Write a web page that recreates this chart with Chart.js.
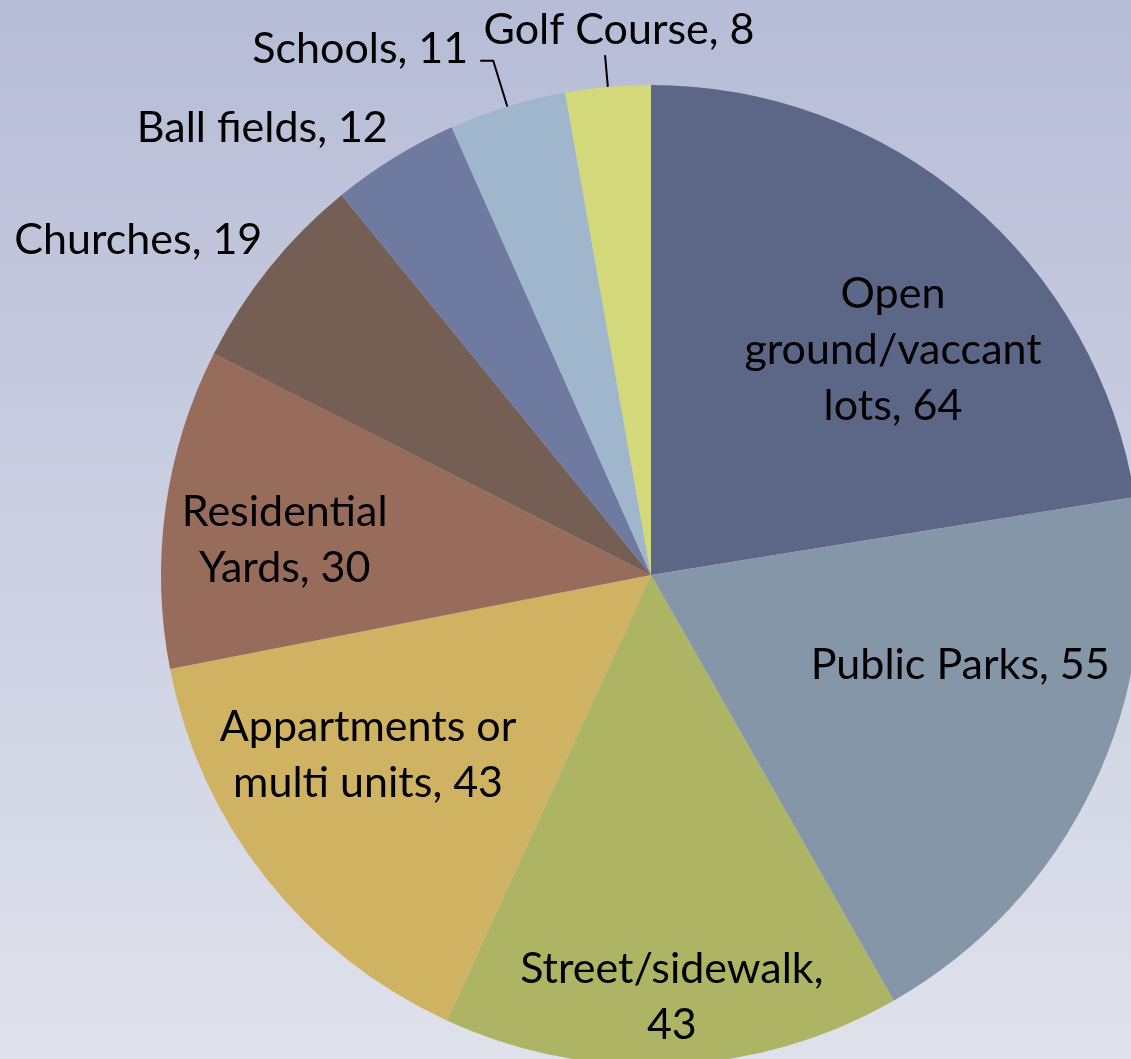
<!DOCTYPE html>
<html>
<head>
<meta charset="utf-8">
<script src="https://cdn.jsdelivr.net/npm/chart.js@4"></script>
<style>
  html, body { margin: 0; padding: 0; overflow: hidden; width: 1131px; height: 1059px; }
  body { background: linear-gradient(to bottom, #b7bcd7 0%, #c9cde0 45%, #dfe1eb 100%); }
  #wrap { position: absolute; left: 0; top: 0; }
</style>
</head>
<body>
<div id="wrap"><canvas id="pieChart" width="1200" height="1100"></canvas></div>
<script>
// land use categories and counts
const categories = ['Open ground/vaccant lots', 'Public Parks', 'Street/sidewalk', 'Appartments or multi units',
  'Residential Yards', 'Churches', 'Ball fields', 'Schools', 'Golf Course'];
const counts = [64, 55, 43, 43, 30, 19, 12, 11, 8];
// how each label is broken into lines
const labelLines = [
  ['Open', 'ground/vaccant', 'lots, 64'],
  ['Public Parks, 55'],
  ['Street/sidewalk,', '43'],
  ['Appartments or', 'multi units, 43'],
  ['Residential', 'Yards, 30'],
  ['Churches, 19'],
  ['Ball fields, 12'],
  ['Schools, 11'],
  ['Golf Course, 8']
];
const colors = ['#5c6686', '#8496a8', '#adb464', '#cfb362', '#976c5b', '#755e54', '#6f7aa1', '#a0b6cc', '#d3d87a'];

// label placement: angle offset from slice middle (deg), radius as fraction, and for outside labels a leader
const labelPlace = [
  { dAng: 6.7, r: 0.674, align: 'center' },
  { dAng: -9.4, r: 0.657, align: 'center' },
  { dAng: -0.3, r: 0.863, align: 'center' },
  { dAng: 5.8, r: 0.684, align: 'center' },
  { dAng: -2.4, r: 0.751, align: 'center' },
  { dAng: 1.9, r: 1.047, align: 'right' },
  { dAng: 1.1, r: 1.059, align: 'right' },
  { leader: { elbow: 1.098, run: -13 }, align: 'right' },
  { leader: { elbow: 1.065, run: 0 }, align: 'center', above: true }
];

const FONT = '43px Lato, "Open Sans", sans-serif';
const LINE_H = 56;

const pieLabels = {
  id: 'pieLabels',
  afterDatasetsDraw(chart) {
    const ctx = chart.ctx;
    const arcs = chart.getDatasetMeta(0).data;
    ctx.save();
    ctx.font = FONT;
    ctx.fillStyle = '#000';
    ctx.strokeStyle = '#000';
    ctx.lineWidth = 2;
    arcs.forEach((arc, i) => {
      const p = labelPlace[i];
      const mid = (arc.startAngle + arc.endAngle) / 2;
      const R = arc.outerRadius;
      const lines = labelLines[i];
      let tx, ty;
      if (p.leader) {
        const sx = arc.x + Math.cos(mid) * R;
        const sy = arc.y + Math.sin(mid) * R;
        const ex = arc.x + Math.cos(mid) * R * p.leader.elbow;
        const ey = arc.y + Math.sin(mid) * R * p.leader.elbow;
        ctx.beginPath();
        ctx.moveTo(sx, sy);
        ctx.lineTo(ex, ey);
        ctx.lineTo(ex + p.leader.run, ey);
        ctx.stroke();
        if (p.above) {
          tx = ex + 14; ty = ey - 25;
        } else {
          tx = ex + p.leader.run - 12; ty = ey - 12;
        }
      } else {
        const a = mid + p.dAng * Math.PI / 180;
        tx = arc.x + Math.cos(a) * R * p.r;
        ty = arc.y + Math.sin(a) * R * p.r;
      }
      ctx.textAlign = p.align;
      ctx.textBaseline = 'middle';
      const top = ty - (lines.length - 1) * LINE_H / 2;
      lines.forEach((ln, k) => ctx.fillText(ln, tx, top + k * LINE_H));
    });
    ctx.restore();
  }
};

function draw() {
  new Chart(document.getElementById('pieChart'), {
    type: 'pie',
    data: {
      labels: categories,
      datasets: [{
        data: counts,
        backgroundColor: colors,
        borderWidth: 0
      }]
    },
    options: {
      responsive: false,
      animation: false,
      layout: { padding: { left: 161, top: 85, right: 59, bottom: 35 } },
      plugins: { legend: { display: false }, tooltip: { enabled: false } }
    },
    plugins: [pieLabels]
  });
}

document.fonts.load(FONT).then(draw, draw);
</script>
</body>
</html>
